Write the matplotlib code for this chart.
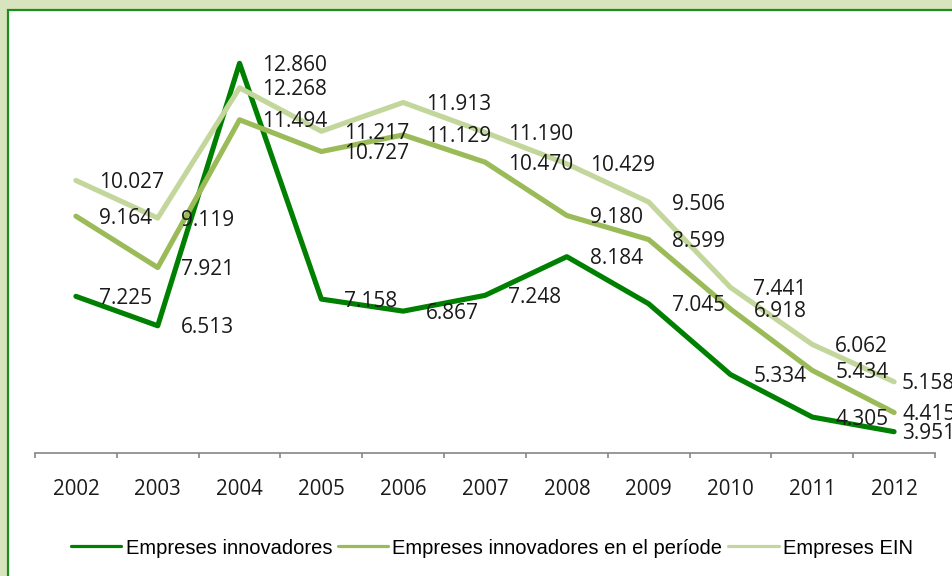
import matplotlib.pyplot as plt
from matplotlib.patches import Rectangle

years = ['2002', '2003', '2004', '2005', '2006', '2007', '2008', '2009', '2010', '2011', '2012']

innovadores = [7.225, 6.513, 12.860, 7.158, 6.867, 7.248, 8.184, 7.045, 5.334, 4.305, 3.951]
innovadores_periode = [9.164, 7.921, 11.494, 10.727, 11.129, 10.470, 9.180, 8.599, 6.918, 5.434, 4.415]
ein = [10.027, 9.119, 12.268, 11.217, 11.913, 11.190, 10.429, 9.506, 7.441, 6.062, 5.158]

series = [
    ('Empreses innovadores', innovadores, '#008000'),
    ('Empreses innovadores en el període', innovadores_periode, '#9bbb59'),
    ('Empreses EIN', ein, '#c3d69b'),
]

plt.rcParams['font.family'] = ['Liberation Sans', 'DejaVu Sans']
label_font = ['Open Sans', 'DejaVu Sans']

W, H = 953, 576
fig = plt.figure(figsize=(W / 100, H / 100), dpi=100, facecolor='#d7e4bd')

# white chart area with green border (runs off right and bottom)
fig.patches.append(Rectangle((8 / W, -0.05), 1.2, (H - 10) / H + 0.05, transform=fig.transFigure,
                             facecolor='white', edgecolor='#1e8c1e', linewidth=1.6, zorder=-5))

ax = fig.add_axes([35 / W, (H - 453) / H, 900 / W, 439 / H])
ax.set_zorder(2)
ax.set_facecolor('none')

x = list(range(len(years)))
for name, vals, color in series:
    ax.plot(x, vals, color=color, linewidth=3.7, label=name, solid_capstyle='round',
            solid_joinstyle='round')

# data labels to the right of each point (last ones pushed in to stay in the chart)
for name, vals, color in series:
    for xi, v in zip(x, vals):
        dx = 8 if xi == x[-1] else 23
        ax.annotate(f'{v:.3f}', (xi, v), xytext=(dx, -2), textcoords='offset pixels',
                    ha='left', va='center', fontsize=15, color='#1a1a1a',
                    family=label_font, annotation_clip=False, zorder=5)

ax.set_xlim(-0.5, 10.5)
ax.set_ylim(3.436, 14.053)

for s in ['left', 'right', 'top']:
    ax.spines[s].set_visible(False)
ax.spines['bottom'].set_color('#868686')
ax.spines['bottom'].set_linewidth(1.2)
ax.set_yticks([])

ax.set_xticks(x)
ax.set_xticklabels(years, fontsize=14.8, color='#1a1a1a', family=label_font)
ax.set_xticks([i - 0.5 for i in range(len(years) + 1)], minor=True)
ax.tick_params(axis='x', which='major', length=0, pad=19)
ax.tick_params(axis='x', which='minor', length=3.5, width=1.2, color='#868686', direction='out')

leg = fig.legend(loc='center', bbox_to_anchor=(492 / W, 28 / H), ncol=3, frameon=False,
                 fontsize=14.5, handlelength=2.5, handletextpad=0.2, columnspacing=0.3,
                 borderaxespad=0, borderpad=0)
leg.set_zorder(3)
for line in leg.get_lines():
    line.set_linewidth(2.3)

fig.savefig('out.png', dpi=100, facecolor=fig.get_facecolor())
